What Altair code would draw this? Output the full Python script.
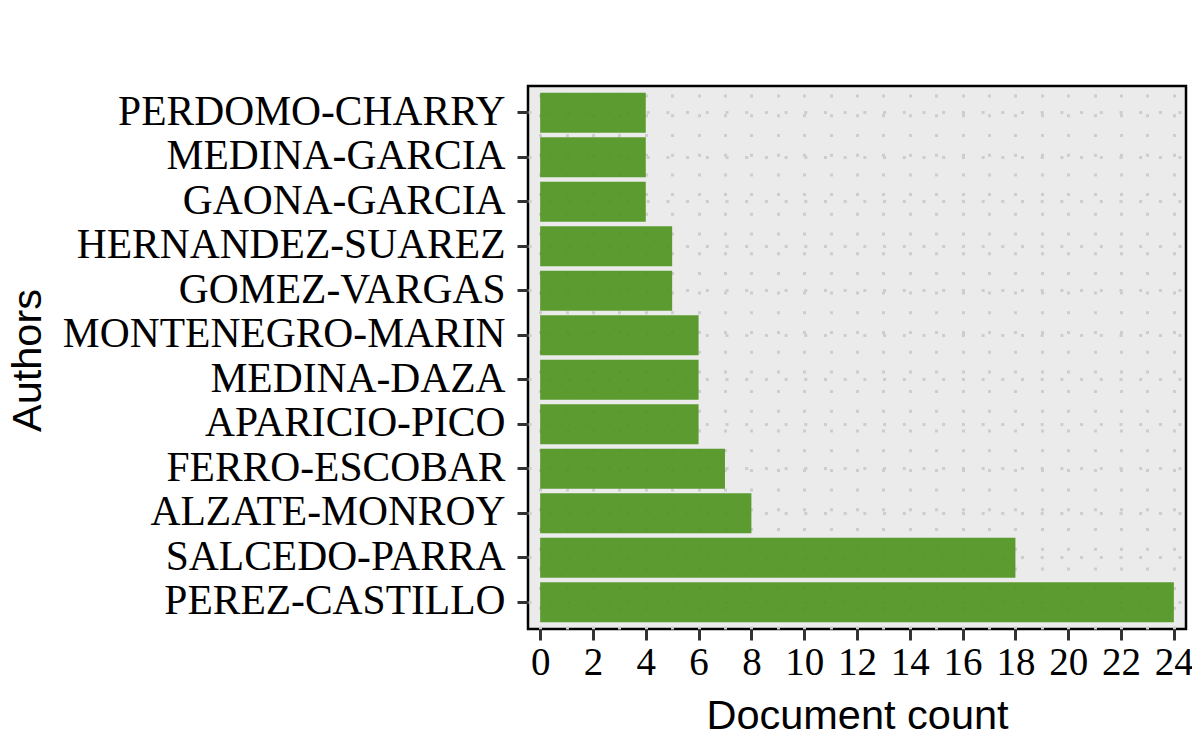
import altair as alt
import pandas as pd

authors = ["PERDOMO-CHARRY", "MEDINA-GARCIA", "GAONA-GARCIA", "HERNANDEZ-SUAREZ",
           "GOMEZ-VARGAS", "MONTENEGRO-MARIN", "MEDINA-DAZA", "APARICIO-PICO",
           "FERRO-ESCOBAR", "ALZATE-MONROY", "SALCEDO-PARRA", "PEREZ-CASTILLO"]
counts = [4, 4, 4, 5, 5, 6, 6, 6, 7, 8, 18, 24]
tick_values = list(range(0, 25))

df = pd.DataFrame({"Authors": authors, "Document count": counts})

grid_dash = [3, 16.7]

chart = alt.Chart(df).mark_bar(color="#4D921C", opacity=0.9).encode(
    x=alt.X("Document count:Q",
            scale=alt.Scale(domain=[-0.46, 24.46], nice=False, zero=False),
            axis=alt.Axis(values=tick_values,
                          labelExpr="datum.value % 2 === 0 ? datum.label : ''",
                          tickOpacity={"condition": {"test": "datum.value % 2 === 0", "value": 1}, "value": 0},
                          grid=True, gridColor="#CDCDCD", gridDash=grid_dash, gridWidth=3,
                          domain=False, ticks=True, tickSize=11, tickWidth=3, tickColor="#333333",
                          labelFont="Liberation Serif", labelFontSize=39, labelColor="black",
                          labelPadding=3, labelFlush=False,
                          title="Document count", titleFont="Liberation Sans",
                          titleFontSize=41.5, titleFontWeight="normal", titleColor="black",
                          titleX=329, titleY=87, titleAlign="center", titleBaseline="middle")),
    y=alt.Y("Authors:N", sort=authors,
            scale=alt.Scale(paddingInner=0.1, paddingOuter=0.15),
            axis=alt.Axis(grid=True, gridColor="#CDCDCD", gridDash=grid_dash, gridWidth=3,
                          bandPosition=0.5,
                          domain=False, tickSize=11, tickWidth=3, tickColor="#333333",
                          labelFont="Liberation Serif", labelFontSize=41.5, labelColor="black",
                          labelPadding=12, labelLimit=600,
                          title="Authors", titleFont="Liberation Sans",
                          titleFontSize=41.5, titleFontWeight="normal", titleColor="black",
                          titleX=-500, titleY=274, titleAngle=-90,
                          titleAlign="center", titleBaseline="middle")),
).properties(
    width=658, height=543,
    autosize=alt.AutoSizeParams(type="none"),
    padding={"left": 520, "top": 78, "right": 6, "bottom": 110},
).configure(
    background="white"
).configure_view(
    fill="#EBEBEB", stroke="black", strokeWidth=2.5
)

chart.save("out.html", embed_options={"renderer": "svg", "actions": False})
